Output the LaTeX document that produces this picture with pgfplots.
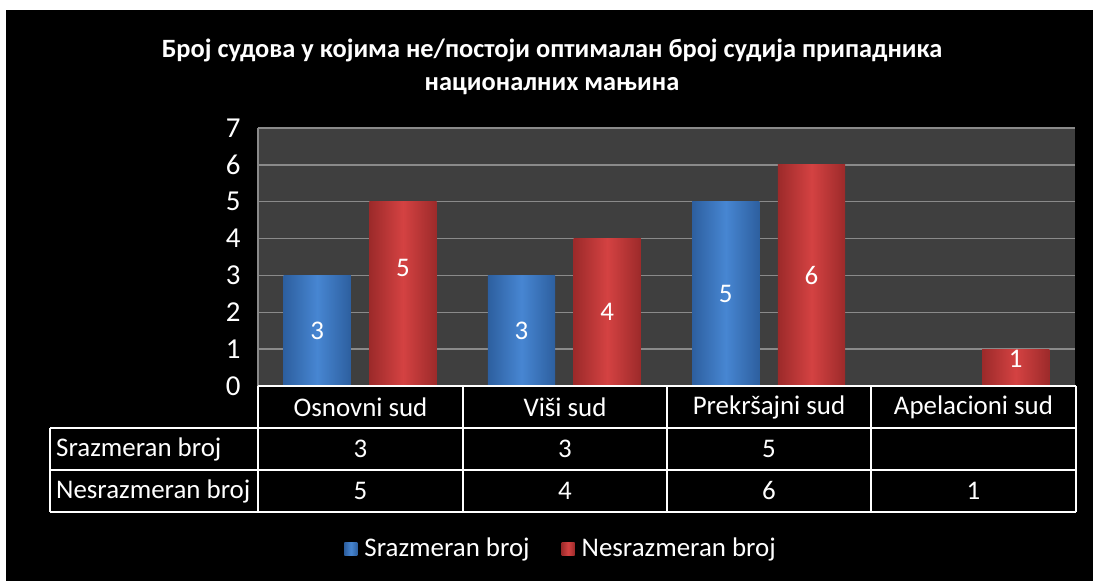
\documentclass[border=0pt]{standalone}
\usepackage{pgfplots}
\pgfplotsset{compat=1.18}
\usepackage{fontspec}
\setmainfont{Carlito}
\definecolor{plotbg}{HTML}{3F3F3F}
\definecolor{gridc}{HTML}{8A8A8A}
\definecolor{blueA}{HTML}{2D5F9F}
\definecolor{blueB}{HTML}{4786D2}
\definecolor{redA}{HTML}{9C2A2A}
\definecolor{redB}{HTML}{D44242}
\pgfplotsset{
  bluebar/.style={draw=none, bar shift=-0.21, left color=blueA, right color=blueA, middle color=blueB, forget plot},
  redbar/.style={draw=none, bar shift=0.21, left color=redA, right color=redA, middle color=redB, forget plot},
}
\begin{document}
\begin{tikzpicture}[x=1bp,y=1bp]
\fill[white] (0,0) rectangle (1093,581);
\fill[black] (6,0) rectangle (1093,571);
\node[white,font=\fontsize{26.5}{33}\selectfont\bfseries,align=center] at (552,514) {Број судова у којима не/постоји оптималан број судија припадника\\националних мањина};
\begin{axis}[
  at={(258bp,195bp)}, anchor=south west,
  scale only axis, width=817bp, height=258bp,
  xmin=-0.5, xmax=3.5, ymin=0, ymax=7,
  axis background/.style={fill=plotbg},
  axis line style={draw=none},
  ytick={0,...,7}, xtick=\empty,
  major tick length=0pt,
  ymajorgrids, grid style={gridc, line width=1.5bp},
  yticklabel style={text=white,font=\fontsize{29}{29}\selectfont,xshift=-14bp},
  /pgf/number format/assume math mode=true,
  ybar, bar width=0.33,
  clip=false,
  nodes near coords,
  visualization depends on=y \as \rawy,
  every node near coord/.append style={text=white,font=\fontsize{27}{27}\selectfont,anchor=center,yshift=-\rawy*18.43bp},
  legend columns=2,
  legend style={at={(0.371,-0.628)}, anchor=center, draw=none, fill=none, text=white, font=\fontsize{27}{27}\selectfont,
    /tikz/every odd column/.append style={column sep=5bp},
    /tikz/every even column/.append style={column sep=30bp}},
  legend image code/.code={\path[#1,draw=none] (0bp,-7bp) rectangle (13bp,6bp);},
]
% Srazmeran broj
\addplot[bluebar] coordinates {(0,3)};
\addplot[bluebar] coordinates {(1,3)};
\addplot[bluebar] coordinates {(2,5)};
% Nesrazmeran broj
\addplot[redbar, every node near coord/.append style={yshift=26bp}] coordinates {(0,5)};
\addplot[redbar] coordinates {(1,4)};
\addplot[redbar] coordinates {(2,6)};
\addplot[redbar, every node near coord/.append style={yshift=9bp}] coordinates {(3,1)};
\addlegendimage{left color=blueA, right color=blueA, middle color=blueB}
\addlegendentry{Srazmeran broj}
\addlegendimage{left color=redA, right color=redA, middle color=redB}
\addlegendentry{Nesrazmeran broj}
\draw[gridc, line width=1.5bp] (axis cs:-0.5,0) -- (axis cs:-0.5,7);
\end{axis}
\begin{scope}[white, line width=1.5bp]
\draw (258,195) -- (1076,195);
\draw (50,153) -- (1076,153);
\draw (50,111) -- (1076,111);
\draw (50,69) -- (1076,69);
\foreach \x in {258,463,667,871,1076} \draw (\x,195) -- (\x,69);
\draw (50,153) -- (50,69);
\end{scope}
\begin{scope}[every node/.style={text=white,font=\fontsize{27}{27}\selectfont,inner sep=0pt}]
\node at (360.5,174) {Osnovni sud};
\node at (565,174) {Viši sud};
\node at (769,174) {Prekršajni sud};
\node at (973.5,174) {Apelacioni sud};
\node[anchor=west] at (56,132) {Srazmeran broj};
\node[anchor=west] at (56,90) {Nesrazmeran broj};
\node at (360.5,132) {3};
\node at (565,132) {3};
\node at (769,132) {5};
\node at (360.5,90) {5};
\node at (565,90) {4};
\node at (769,90) {6};
\node at (973.5,90) {1};
\end{scope}
\end{tikzpicture}
\end{document}
